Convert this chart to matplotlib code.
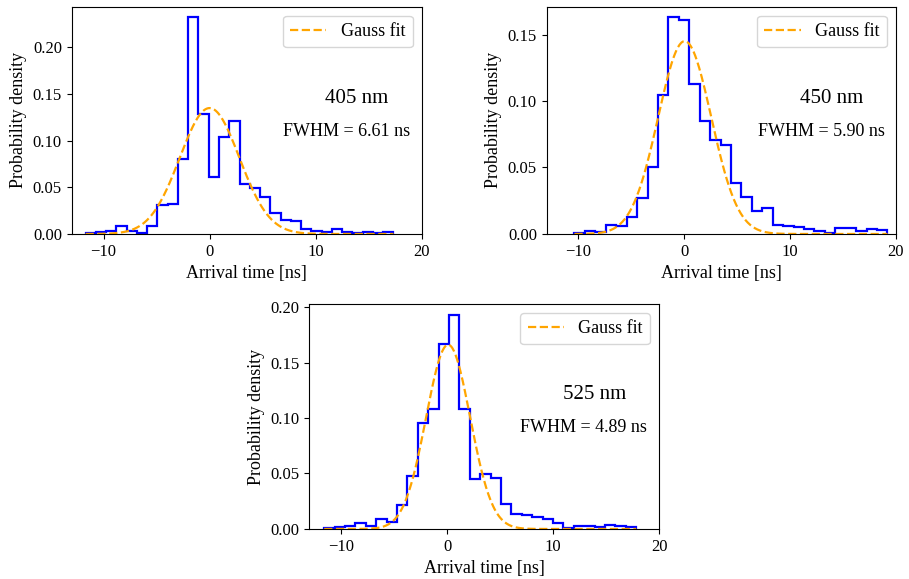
import numpy as np
import matplotlib
matplotlib.use("Agg")
import matplotlib.pyplot as plt

plt.rcParams['font.family'] = ['Liberation Serif', 'DejaVu Serif']
plt.rcParams['mathtext.fontset'] = 'stix'

# ---- data ----
labels = ["405 nm", "450 nm", "525 nm"]
fwhm = [6.61, 5.90, 4.89]
gauss_peak = [0.135, 0.145, 0.166]
gauss_mean = [0.0, 0.05, 0.1]

edges_range_405 = [-11.69, 17.34]
edges_range_450 = [-10.37, 19.22]
edges_range_525 = [-11.60, 17.85]

density_405 = [0.0014, 0.0025, 0.0036, 0.0089, 0.0036, 0.0011, 0.0086, 0.0311, 0.0318, 0.0804,
               0.2321, 0.1289, 0.0607, 0.1036, 0.1214, 0.0536, 0.0496, 0.0393, 0.0221, 0.0150,
               0.0139, 0.0054, 0.0032, 0.0025, 0.0050, 0.0025, 0.0014, 0.0025, 0.0014, 0.0025]
density_450 = [0.0010, 0.0023, 0.0013, 0.0068, 0.0063, 0.0130, 0.0268, 0.0500, 0.1044, 0.1628,
               0.1608, 0.1127, 0.0851, 0.0706, 0.0669, 0.0380, 0.0280, 0.0175, 0.0193, 0.0068,
               0.0060, 0.0053, 0.0038, 0.0023, 0.0010, 0.0043, 0.0043, 0.0023, 0.0038, 0.0028]
density_525 = [0.0009, 0.0018, 0.0027, 0.0051, 0.0027, 0.0087, 0.0066, 0.0218, 0.0475, 0.0954,
               0.1082, 0.1665, 0.1931, 0.1082, 0.0454, 0.0496, 0.0460, 0.0221, 0.0137, 0.0123,
               0.0111, 0.0087, 0.0057, 0.0012, 0.0027, 0.0024, 0.0015, 0.0036, 0.0027, 0.0015]

x_limits = (-13.0, 20.0)

fig = plt.figure(figsize=(9.09, 5.79), dpi=100)
positions = [[0.0789, 0.5959, 0.3850, 0.3926],
             [0.6014, 0.5959, 0.3840, 0.3926],
             [0.3403, 0.0864, 0.3847, 0.3886]]
text_pos = [((0.814, 0.597), (0.784, 0.45)),
            ((0.817, 0.597), (0.788, 0.45)),
            ((0.815, 0.596), (0.785, 0.452))]

all_density = [density_405, density_450, density_525]
all_ranges = [edges_range_405, edges_range_450, edges_range_525]

for i in range(3):
    ax = fig.add_axes(positions[i])
    dens = np.array(all_density[i])
    edges = np.linspace(all_ranges[i][0], all_ranges[i][1], len(dens) + 1)
    centers = 0.5 * (edges[:-1] + edges[1:])
    ax.hist(centers, bins=edges, weights=dens, histtype='step', color='blue', linewidth=1.6)
    sigma = fwhm[i] / (2 * np.sqrt(2 * np.log(2)))
    xs = np.linspace(edges[0], edges[-1], 400)
    ys = gauss_peak[i] * np.exp(-0.5 * ((xs - gauss_mean[i]) / sigma) ** 2)
    ax.plot(xs, ys, linestyle='--', color='orange', linewidth=1.6, label='Gauss fit')
    ax.set_xlim(*x_limits)
    ax.set_ylim(0, dens.max() * 1.05)
    ax.set_xticks([-10, 0, 10, 20])
    ax.tick_params(labelsize=12)
    ax.set_xlabel('Arrival time [ns]', fontsize=13)
    ax.set_ylabel('Probability density', fontsize=13)
    ax.legend(loc='upper right', fontsize=13)
    (tx1, ty1), (tx2, ty2) = text_pos[i]
    ax.text(tx1, ty1, labels[i], transform=ax.transAxes, ha='center', va='center', fontsize=15)
    ax.text(tx2, ty2, f'FWHM = {fwhm[i]:.2f} ns', transform=ax.transAxes,
            ha='center', va='center', fontsize=13)

fig.savefig('out.png', dpi=100)
